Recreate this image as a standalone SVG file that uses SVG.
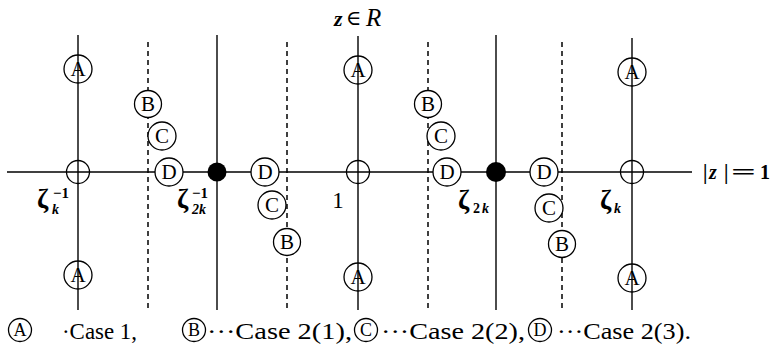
<svg xmlns="http://www.w3.org/2000/svg" width="775" height="354" viewBox="0 0 775 354">
<style>
.ln{stroke:#000;stroke-width:1.4;fill:none}
.ds{stroke:#000;stroke-width:1.5;fill:none;stroke-dasharray:5 4}
.c{stroke:#000;stroke-width:1.3;fill:none}
.cw{stroke:#000;stroke-width:1.3;fill:#fff}
.dot{fill:#000}
.lt{font-family:"Liberation Serif",serif;font-size:21px;text-anchor:middle;fill:#000}
.lg{font-family:"Liberation Serif",serif;font-size:18px;text-anchor:middle;fill:#000}
.tx{font-family:"Liberation Serif",serif;font-size:24px;fill:#000}
.z{font-family:"Liberation Serif",serif;font-weight:bold;font-size:27px;fill:#000}
.sb{font-family:"Liberation Serif",serif;font-weight:bold;font-style:italic;font-size:14px;fill:#000}
.sp{font-family:"Liberation Serif",serif;font-weight:bold;font-size:15px;fill:#000}
</style>
<rect width="775" height="354" fill="#fff"/>
<g id="connectors">
<line class="ln" x1="7" y1="172" x2="692" y2="172"/>
<line class="ln" x1="78" y1="35" x2="78" y2="310"/>
<line class="ln" x1="217" y1="35" x2="217" y2="310"/>
<line class="ln" x1="358" y1="36" x2="358" y2="310"/>
<line class="ln" x1="496" y1="35" x2="496" y2="310"/>
<line class="ln" x1="632" y1="38" x2="632" y2="310"/>
<line class="ds" x1="148" y1="42" x2="148" y2="310"/>
<line class="ds" x1="287" y1="42" x2="287" y2="310"/>
<line class="ds" x1="428" y1="42" x2="428" y2="310"/>
<line class="ds" x1="562" y1="42" x2="562" y2="310"/>
</g>
<g id="p1"><circle class="c" cx="78" cy="172" r="11.5"/></g>
<g id="p2"><circle class="c" cx="358" cy="172" r="11.5"/></g>
<g id="p3"><circle class="c" cx="632" cy="172" r="11.5"/></g>
<g id="dot1"><circle class="dot" cx="217" cy="172" r="9.5"/></g>
<g id="dot2"><circle class="dot" cx="496" cy="172" r="10"/></g>
<g id="a1"><circle class="c" cx="78" cy="69" r="14"/><text class="lt" x="78" y="76">A</text></g>
<g id="a2"><circle class="c" cx="78" cy="275" r="14"/><text class="lt" x="78" y="282">A</text></g>
<g id="a3"><circle class="c" cx="358" cy="70" r="14"/><text class="lt" x="358" y="77">A</text></g>
<g id="a4"><circle class="c" cx="358" cy="277" r="14"/><text class="lt" x="358" y="284">A</text></g>
<g id="a5"><circle class="c" cx="632" cy="72" r="14"/><text class="lt" x="632" y="79">A</text></g>
<g id="a6"><circle class="c" cx="632" cy="278" r="14"/><text class="lt" x="632" y="285">A</text></g>
<g id="b1"><circle class="cw" cx="148" cy="104" r="13.5"/><text class="lt" x="148" y="111">B</text></g>
<g id="c1"><circle class="cw" cx="162" cy="136" r="14"/><text class="lt" x="162" y="143">C</text></g>
<g id="d1"><circle class="cw" cx="169" cy="172" r="14"/><text class="lt" x="169" y="179">D</text></g>
<g id="d2"><circle class="cw" cx="265" cy="172" r="14"/><text class="lt" x="265" y="179">D</text></g>
<g id="c2"><circle class="cw" cx="272" cy="205" r="14"/><text class="lt" x="272" y="212">C</text></g>
<g id="b2"><circle class="cw" cx="287" cy="242" r="13.5"/><text class="lt" x="287" y="249">B</text></g>
<g id="b3"><circle class="cw" cx="428" cy="104" r="13.5"/><text class="lt" x="428" y="111">B</text></g>
<g id="c3"><circle class="cw" cx="441" cy="136" r="14"/><text class="lt" x="441" y="143">C</text></g>
<g id="d3"><circle class="cw" cx="447" cy="172" r="14"/><text class="lt" x="447" y="179">D</text></g>
<g id="d4"><circle class="cw" cx="544" cy="172" r="14"/><text class="lt" x="544" y="179">D</text></g>
<g id="c4"><circle class="cw" cx="549" cy="208" r="14"/><text class="lt" x="549" y="215">C</text></g>
<g id="b4"><circle class="cw" cx="562" cy="244" r="13.5"/><text class="lt" x="562" y="251">B</text></g>
<g id="labels">
<text class="z" x="37" y="208">ζ</text><text class="sb" x="52" y="214">k</text><text class="sp" x="53" y="198">−1</text>
<text class="z" x="177" y="208">ζ</text><text class="sb" x="192" y="214">2k</text><text class="sp" x="192" y="198">−1</text>
<text class="tx" x="338" y="208" text-anchor="middle" style="font-size:23px">1</text>
<text class="z" x="458" y="209">ζ</text><text class="sb" x="473" y="213" style="font-style:normal">2</text><text class="sb" x="482" y="213">k</text>
<text class="z" x="600" y="209">ζ</text><text class="sb" x="614" y="213">k</text>
<text style="font-family:'Liberation Serif',serif;font-size:22px;font-style:italic;font-weight:bold" x="334" y="26">z</text>
<text style="font-family:'DejaVu Serif',serif;font-size:21px" x="346" y="25">∈</text>
<text style="font-family:'Liberation Serif',serif;font-size:25px;font-style:italic" x="366" y="26">R</text>
<text style="font-family:'Liberation Serif',serif;font-size:20px;font-weight:bold" y="179"><tspan x="703">|</tspan><tspan x="709" font-style="italic">z</tspan><tspan x="724">|</tspan></text>
<text style="font-family:'Liberation Serif',serif;font-size:20px;font-weight:bold" x="731" y="179" textLength="25" lengthAdjust="spacingAndGlyphs">=</text>
<text style="font-family:'Liberation Serif',serif;font-size:20px;font-weight:bold" x="760" y="179">1</text>
</g>
<g id="legend">
<circle class="c" cx="20" cy="330" r="11.5"/><text class="lg" x="20" y="336">A</text>
<text class="tx" x="62" y="339" textLength="75" lengthAdjust="spacingAndGlyphs">·Case 1,</text>
<circle class="c" cx="194" cy="330" r="11.5"/><text class="lg" x="194" y="336">B</text>
<text class="tx" x="207" y="339" textLength="145" lengthAdjust="spacingAndGlyphs">···Case 2(1),</text>
<circle class="c" cx="366" cy="330" r="11.5"/><text class="lg" x="366" y="336">C</text>
<text class="tx" x="381" y="339" textLength="144" lengthAdjust="spacingAndGlyphs">···Case 2(2),</text>
<circle class="c" cx="540" cy="330" r="11.5"/><text class="lg" x="540" y="336">D</text>
<text class="tx" x="557" y="339" textLength="134" lengthAdjust="spacingAndGlyphs">···Case 2(3).</text>
</g>
</svg>
